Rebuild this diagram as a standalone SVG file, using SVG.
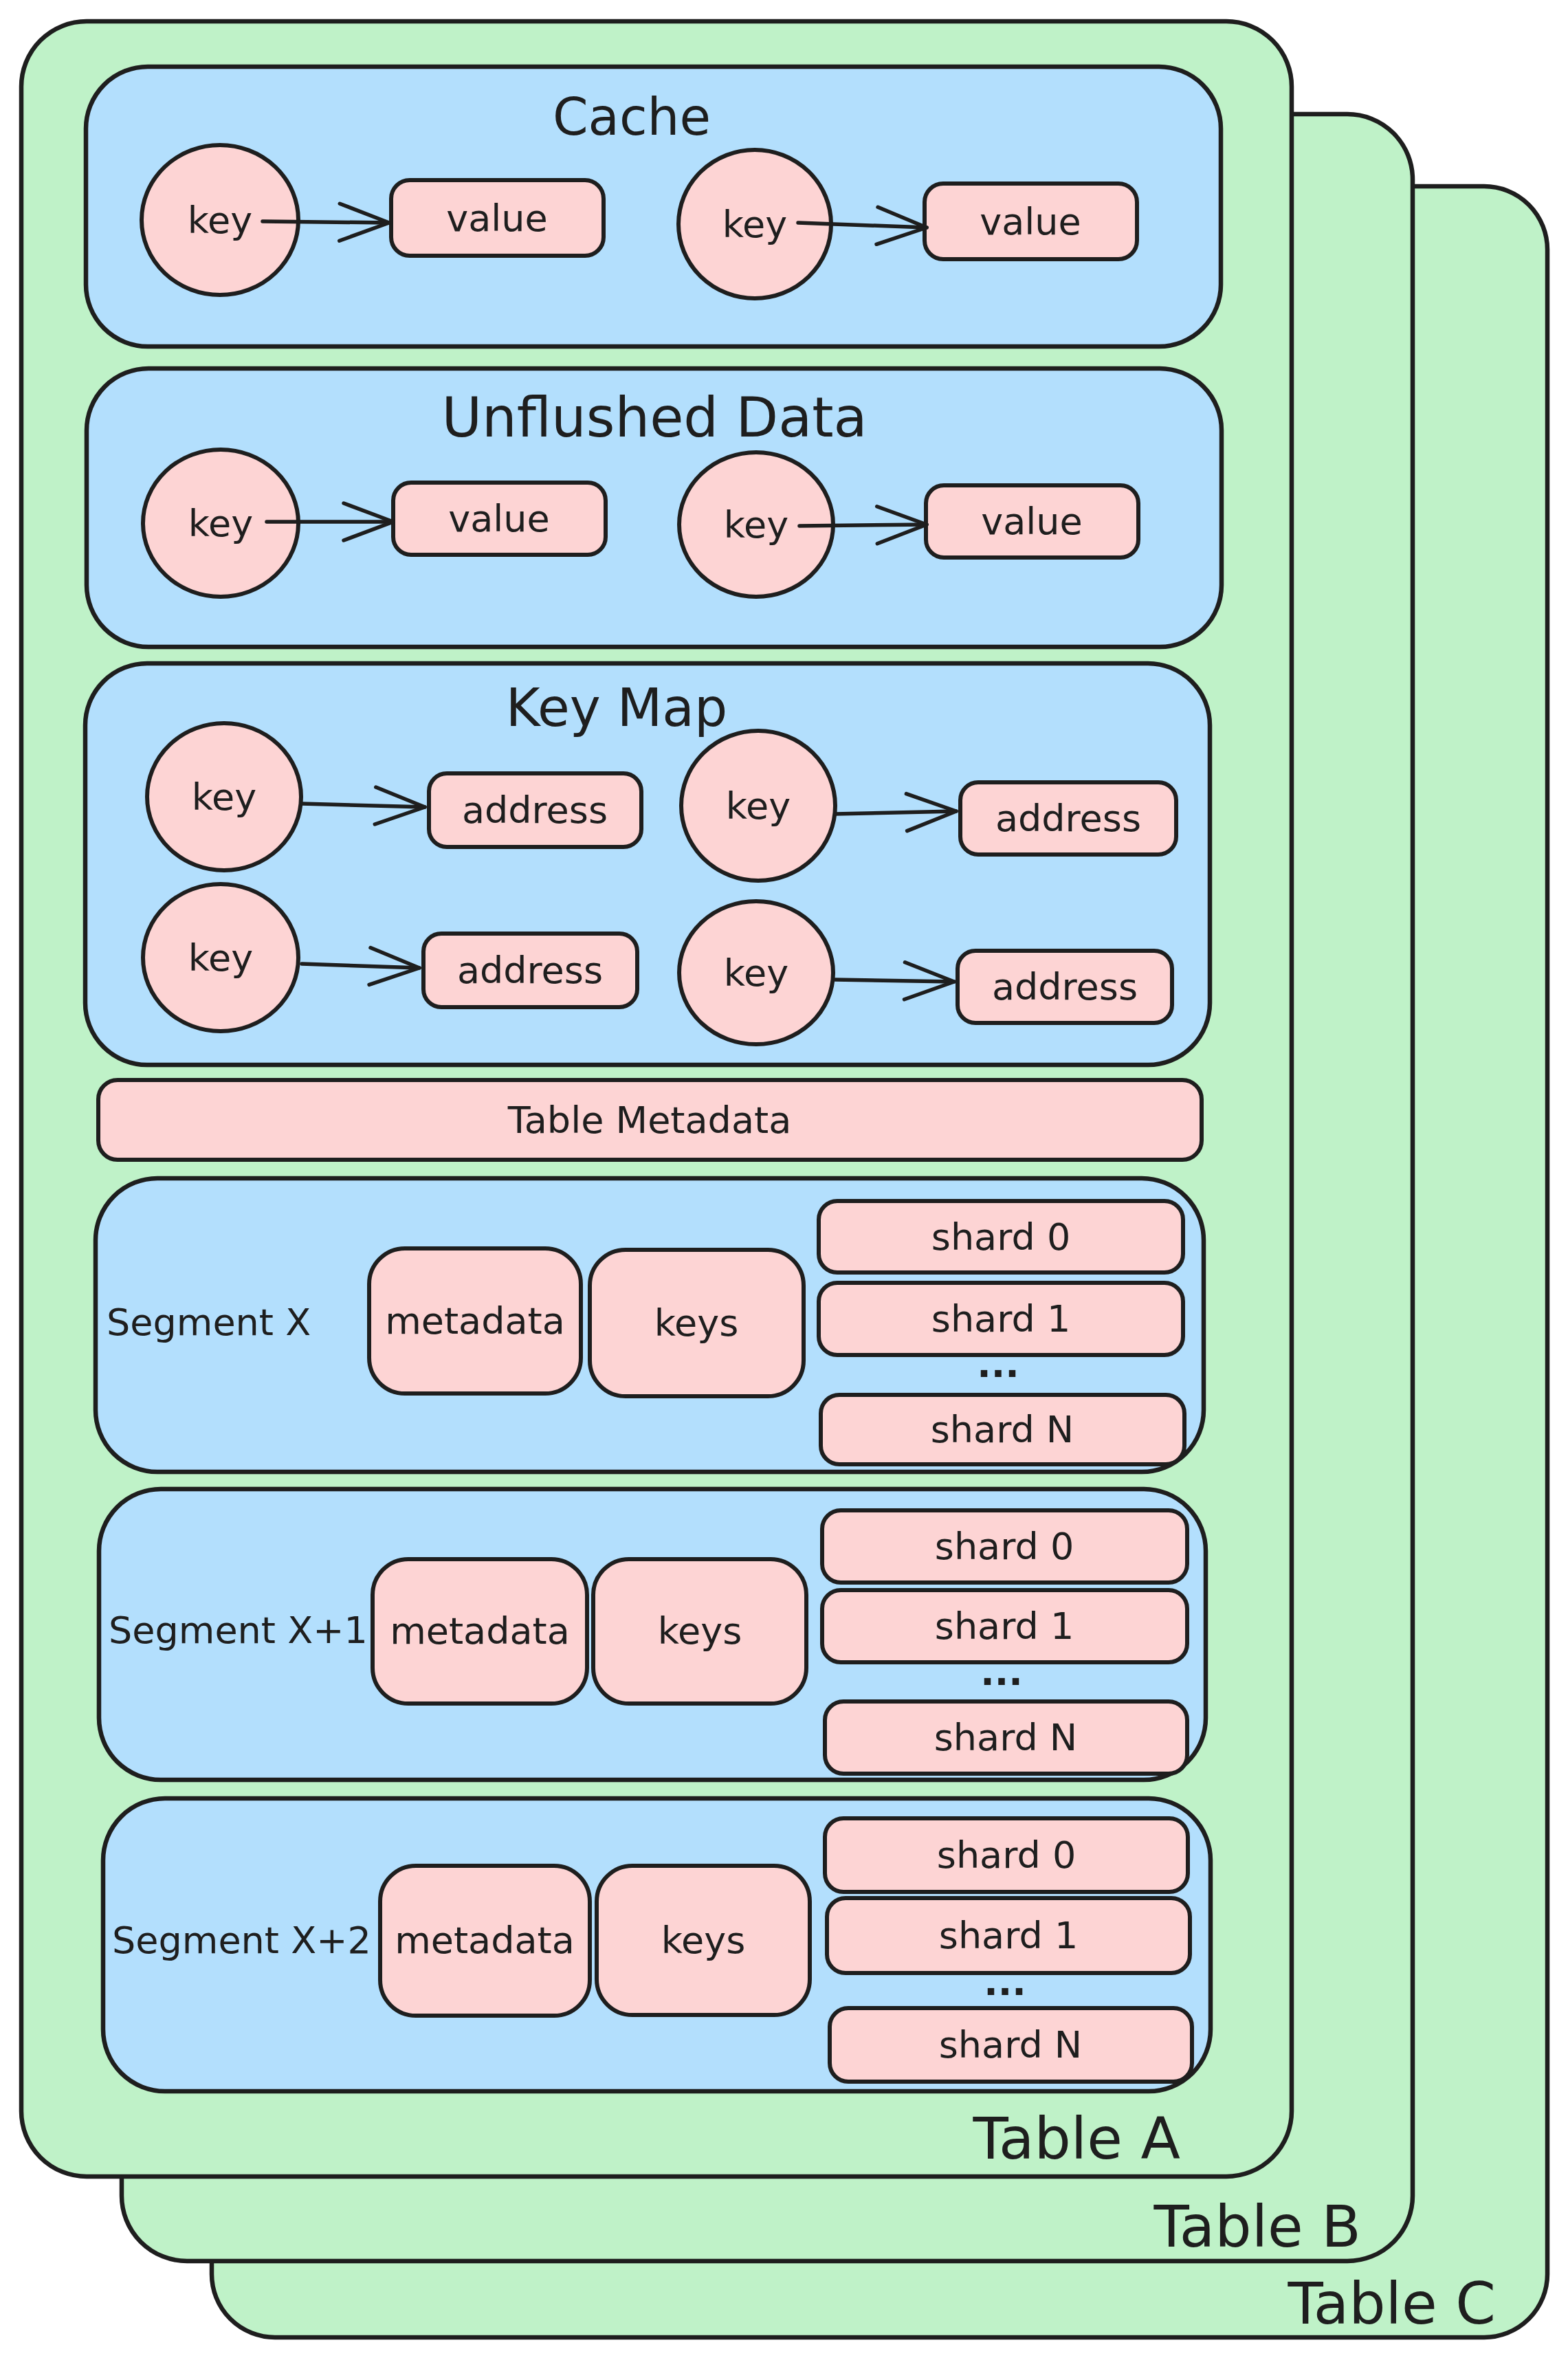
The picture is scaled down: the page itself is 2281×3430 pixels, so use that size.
<svg xmlns="http://www.w3.org/2000/svg" width="2281" height="3430" viewBox="0 0 2281 3430">
<style>
.tbl{fill:#bff2c8;stroke:#1e1e1e;stroke-width:6.5}
.grp{fill:#b3dffd;stroke:#1e1e1e;stroke-width:6.5}
.nd{fill:#fdd4d4;stroke:#1e1e1e;stroke-width:6}
.t{font-family:"DejaVu Sans","Liberation Sans",sans-serif;fill:#1e1e1e;text-anchor:middle;dominant-baseline:central;font-size:54px}
.ttl{font-family:"DejaVu Sans","Liberation Sans",sans-serif;fill:#1e1e1e;text-anchor:middle}
.dots{font-family:"DejaVu Sans","Liberation Sans",sans-serif;fill:#1e1e1e;text-anchor:middle;font-weight:bold;font-size:54px}
.lbl{font-family:"DejaVu Sans","Liberation Sans",sans-serif;fill:#1e1e1e;text-anchor:end;font-size:84px}
.seg{font-family:"DejaVu Sans","Liberation Sans",sans-serif;fill:#1e1e1e;text-anchor:start;dominant-baseline:central;font-size:54px}
.conn{stroke:#1e1e1e;stroke-width:5.5;fill:none;stroke-linecap:round}
</style>
<defs>
<marker id="ah" markerUnits="userSpaceOnUse" viewBox="-80 -40 90 80" markerWidth="90" markerHeight="80" refX="0" refY="0" orient="auto" overflow="visible">
<path d="M-72,-27 L0,0 L-72,27" fill="none" stroke="#1e1e1e" stroke-width="5.5" stroke-linecap="round" stroke-linejoin="round"/>
</marker>
</defs>
<rect width="2281" height="3430" fill="#ffffff"/>

<g id="table-c">
<rect class="tbl" x="308" y="271" width="1943" height="3129" rx="92"/>
<text class="lbl" x="2176" y="3380">Table C</text>
</g>
<g id="table-b">
<rect class="tbl" x="177" y="166" width="1878" height="3123" rx="95"/>
<text class="lbl" x="1980" y="3268">Table B</text>
</g>
<g id="table-a">
<rect class="tbl" x="31" y="31" width="1848" height="3135" rx="95"/>
<text class="lbl" x="1717" y="3140">Table A</text>
</g>

<g id="cache">
<rect class="grp" x="125" y="97" width="1651" height="407" rx="90"/>
<text class="ttl" x="919" y="196" font-size="74">Cache</text>
</g>
<g id="unflushed-data">
<rect class="grp" x="126" y="536" width="1651" height="405" rx="90"/>
<text class="ttl" x="952" y="635" font-size="80">Unflushed Data</text>
</g>
<g id="key-map">
<rect class="grp" x="124" y="965" width="1636" height="584" rx="90"/>
<text class="ttl" x="897" y="1056" font-size="76">Key Map</text>
</g>
<g id="table-metadata">
<rect class="nd" x="143" y="1571" width="1605" height="116" rx="28"/>
<text class="t" x="945" y="1629" font-size="58">Table Metadata</text>
</g>
<g id="segment-x">
<rect class="grp" x="139" y="1714" width="1612" height="427" rx="90"/>
<text class="seg" x="155" y="1923">Segment X</text>
</g>
<g id="segment-x1">
<rect class="grp" x="144" y="2166" width="1610" height="423" rx="90"/>
<text class="seg" x="158" y="2371">Segment X+1</text>
</g>
<g id="segment-x2">
<rect class="grp" x="150" y="2616" width="1611" height="426" rx="90"/>
<text class="seg" x="163" y="2822">Segment X+2</text>
</g>

<!-- Cache nodes -->
<g id="cache-key-1"><ellipse class="nd" cx="320" cy="320" rx="114" ry="109"/><text class="t" x="320" y="320">key</text></g>
<g id="cache-value-1"><rect class="nd" x="569" y="262" width="309" height="110" rx="27"/><text class="t" x="723" y="317">value</text></g>
<g id="cache-key-2"><ellipse class="nd" cx="1098" cy="326" rx="111" ry="108"/><text class="t" x="1098" y="326">key</text></g>
<g id="cache-value-2"><rect class="nd" x="1345" y="267" width="309" height="110" rx="27"/><text class="t" x="1499" y="322">value</text></g>

<!-- Unflushed nodes -->
<g id="unflushed-key-1"><ellipse class="nd" cx="321" cy="761" rx="113" ry="107"/><text class="t" x="321" y="761">key</text></g>
<g id="unflushed-value-1"><rect class="nd" x="572" y="702" width="309" height="105" rx="26"/><text class="t" x="726" y="754">value</text></g>
<g id="unflushed-key-2"><ellipse class="nd" cx="1100" cy="763" rx="112" ry="105"/><text class="t" x="1100" y="763">key</text></g>
<g id="unflushed-value-2"><rect class="nd" x="1347" y="706" width="309" height="105" rx="26"/><text class="t" x="1501" y="758">value</text></g>

<!-- Key map nodes -->
<g id="keymap-key-1"><ellipse class="nd" cx="326" cy="1159" rx="112" ry="107"/><text class="t" x="326" y="1159">key</text></g>
<g id="keymap-address-1"><rect class="nd" x="624" y="1125" width="309" height="107" rx="26"/><text class="t" x="778" y="1178" font-size="56">address</text></g>
<g id="keymap-key-2"><ellipse class="nd" cx="1103" cy="1172" rx="112" ry="109"/><text class="t" x="1103" y="1172">key</text></g>
<g id="keymap-address-2"><rect class="nd" x="1397" y="1138" width="314" height="105" rx="26"/><text class="t" x="1554" y="1190" font-size="56">address</text></g>
<g id="keymap-key-3"><ellipse class="nd" cx="321" cy="1393" rx="113" ry="107"/><text class="t" x="321" y="1393">key</text></g>
<g id="keymap-address-3"><rect class="nd" x="616" y="1358" width="311" height="107" rx="26"/><text class="t" x="771" y="1411" font-size="56">address</text></g>
<g id="keymap-key-4"><ellipse class="nd" cx="1100" cy="1415" rx="112" ry="104"/><text class="t" x="1100" y="1415">key</text></g>
<g id="keymap-address-4"><rect class="nd" x="1393" y="1383" width="312" height="105" rx="26"/><text class="t" x="1549" y="1435" font-size="56">address</text></g>

<!-- Segment X nodes -->
<g id="segx-metadata"><rect class="nd" x="537" y="1816" width="308" height="211" rx="52"/><text class="t" x="691" y="1921" font-size="56">metadata</text></g>
<g id="segx-keys"><rect class="nd" x="858" y="1818" width="311" height="213" rx="52"/><text class="t" x="1013" y="1924" font-size="56">keys</text></g>
<g id="segx-shard-0"><rect class="nd" x="1191" y="1747" width="530" height="104" rx="27"/><text class="t" x="1456" y="1799" font-size="56">shard 0</text></g>
<g id="segx-shard-1"><rect class="nd" x="1191" y="1866" width="530" height="105" rx="27"/><text class="t" x="1456" y="1918" font-size="56">shard 1</text></g>
<text class="dots" x="1452" y="2003">...</text>
<g id="segx-shard-n"><rect class="nd" x="1194" y="2029" width="529" height="101" rx="27"/><text class="t" x="1458" y="2079" font-size="56">shard N</text></g>

<!-- Segment X+1 nodes -->
<g id="segx1-metadata"><rect class="nd" x="542" y="2268" width="312" height="210" rx="52"/><text class="t" x="698" y="2372" font-size="56">metadata</text></g>
<g id="segx1-keys"><rect class="nd" x="863" y="2268" width="310" height="210" rx="52"/><text class="t" x="1018" y="2372" font-size="56">keys</text></g>
<g id="segx1-shard-0"><rect class="nd" x="1196" y="2197" width="531" height="105" rx="27"/><text class="t" x="1461" y="2249" font-size="56">shard 0</text></g>
<g id="segx1-shard-1"><rect class="nd" x="1196" y="2313" width="531" height="105" rx="27"/><text class="t" x="1461" y="2365" font-size="56">shard 1</text></g>
<text class="dots" x="1457" y="2451">...</text>
<g id="segx1-shard-n"><rect class="nd" x="1200" y="2475" width="527" height="105" rx="27"/><text class="t" x="1463" y="2527" font-size="56">shard N</text></g>

<!-- Segment X+2 nodes -->
<g id="segx2-metadata"><rect class="nd" x="553" y="2714" width="305" height="218" rx="52"/><text class="t" x="705" y="2822" font-size="56">metadata</text></g>
<g id="segx2-keys"><rect class="nd" x="868" y="2714" width="310" height="217" rx="52"/><text class="t" x="1023" y="2822" font-size="56">keys</text></g>
<g id="segx2-shard-0"><rect class="nd" x="1200" y="2645" width="528" height="107" rx="27"/><text class="t" x="1464" y="2698" font-size="56">shard 0</text></g>
<g id="segx2-shard-1"><rect class="nd" x="1203" y="2761" width="528" height="109" rx="27"/><text class="t" x="1467" y="2815" font-size="56">shard 1</text></g>
<text class="dots" x="1462" y="2902">...</text>
<g id="segx2-shard-n"><rect class="nd" x="1207" y="2921" width="527" height="107" rx="27"/><text class="t" x="1470" y="2974" font-size="56">shard N</text></g>

<g id="connectors">
<path class="conn" d="M382,322 L566,324" marker-end="url(#ah)"/>
<path class="conn" d="M1161,324 L1348,331" marker-end="url(#ah)"/>
<path class="conn" d="M388,759 L572,759" marker-end="url(#ah)"/>
<path class="conn" d="M1163,765 L1348,763" marker-end="url(#ah)"/>
<path class="conn" d="M439,1169 L618,1174" marker-end="url(#ah)"/>
<path class="conn" d="M1215,1184 L1391,1180" marker-end="url(#ah)"/>
<path class="conn" d="M439,1402 L610,1408" marker-end="url(#ah)"/>
<path class="conn" d="M1215,1425 L1388,1428" marker-end="url(#ah)"/>
</g>
</svg>
